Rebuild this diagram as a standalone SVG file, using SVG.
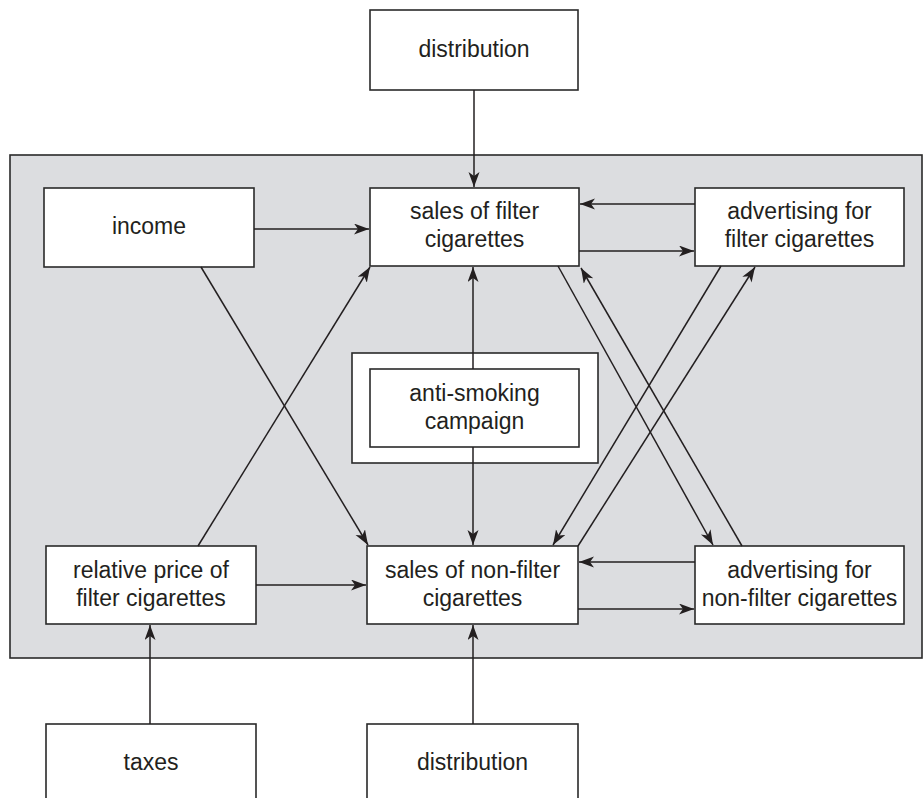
<svg xmlns="http://www.w3.org/2000/svg" width="923" height="798" viewBox="0 0 923 798">
  <style>
    .box { fill: #ffffff; stroke: #2a2a2a; stroke-width: 1.6; }
    .panel { fill: #dcdde0; stroke: #2a2a2a; stroke-width: 1.6; }
    .lbl { font-family: "Liberation Sans", Arial, sans-serif; font-size: 23px; fill: #231f20; text-anchor: middle; }
    .edge { fill: none; stroke: #231f20; stroke-width: 1.5; marker-end: url(#arrow); }
  </style>
  <defs>
    <marker id="arrow" markerUnits="userSpaceOnUse" markerWidth="16" markerHeight="12" refX="15" refY="5.5" orient="auto">
      <path d="M0,0 L15,5.5 L0,11 L4,5.5 Z" fill="#231f20"/>
    </marker>
  </defs>

  <rect width="923" height="798" fill="#ffffff"/>

  <!-- shaded system boundary -->
  <rect id="system" class="panel" x="10" y="155" width="912" height="503"/>

  <g id="distribution-top">
    <rect class="box" x="370" y="10" width="208" height="80"/>
    <text class="lbl" x="474" y="57">distribution</text>
  </g>

  <g id="income">
    <rect class="box" x="44" y="188" width="210" height="79"/>
    <text class="lbl" x="149" y="234">income</text>
  </g>

  <g id="sales-filter">
    <rect class="box" x="370" y="188" width="209" height="78"/>
    <text class="lbl" x="474.5" y="219">sales of filter</text>
    <text class="lbl" x="474.5" y="247">cigarettes</text>
  </g>

  <g id="adv-filter">
    <rect class="box" x="695" y="188" width="209" height="78"/>
    <text class="lbl" x="799.5" y="219">advertising for</text>
    <text class="lbl" x="799.5" y="247">filter cigarettes</text>
  </g>

  <g id="anti-smoking">
    <rect class="box" x="352" y="353" width="246" height="110"/>
    <rect class="box" x="370" y="369" width="209" height="78"/>
    <text class="lbl" x="474.5" y="401">anti-smoking</text>
    <text class="lbl" x="474.5" y="429">campaign</text>
  </g>

  <g id="relative-price">
    <rect class="box" x="46" y="546" width="210" height="78"/>
    <text class="lbl" x="151" y="578">relative price of</text>
    <text class="lbl" x="151" y="606">filter cigarettes</text>
  </g>

  <g id="sales-nonfilter">
    <rect class="box" x="367" y="546" width="211" height="78"/>
    <text class="lbl" x="472.5" y="578">sales of non-filter</text>
    <text class="lbl" x="472.5" y="606">cigarettes</text>
  </g>

  <g id="adv-nonfilter">
    <rect class="box" x="695" y="546" width="209" height="78"/>
    <text class="lbl" x="799.5" y="578">advertising for</text>
    <text class="lbl" x="799.5" y="606">non-filter cigarettes</text>
  </g>

  <g id="taxes">
    <rect class="box" x="46" y="724" width="210" height="90"/>
    <text class="lbl" x="151" y="770">taxes</text>
  </g>

  <g id="distribution-bottom">
    <rect class="box" x="367" y="724" width="211" height="90"/>
    <text class="lbl" x="472.5" y="770">distribution</text>
  </g>

  <g id="connectors">
    <line class="edge" x1="474" y1="90" x2="474" y2="187"/>
    <line class="edge" x1="254" y1="229" x2="369" y2="229"/>
    <line class="edge" x1="695" y1="204" x2="580" y2="204"/>
    <line class="edge" x1="579" y1="251" x2="694" y2="251"/>
    <line class="edge" x1="473" y1="369" x2="473" y2="267"/>
    <line class="edge" x1="473" y1="447" x2="473" y2="545"/>
    <line class="edge" x1="201" y1="267" x2="368" y2="545"/>
    <line class="edge" x1="198" y1="546" x2="370" y2="267"/>
    <line class="edge" x1="256" y1="585" x2="366" y2="585"/>
    <line class="edge" x1="695" y1="562" x2="579" y2="562"/>
    <line class="edge" x1="578" y1="609" x2="694" y2="609"/>
    <line class="edge" x1="558" y1="266" x2="713" y2="545"/>
    <line class="edge" x1="742" y1="546" x2="581" y2="268"/>
    <line class="edge" x1="721" y1="266" x2="553" y2="545"/>
    <line class="edge" x1="578" y1="546" x2="755" y2="267"/>
    <line class="edge" x1="150" y1="724" x2="150" y2="625"/>
    <line class="edge" x1="473" y1="724" x2="473" y2="625"/>
  </g>
</svg>
